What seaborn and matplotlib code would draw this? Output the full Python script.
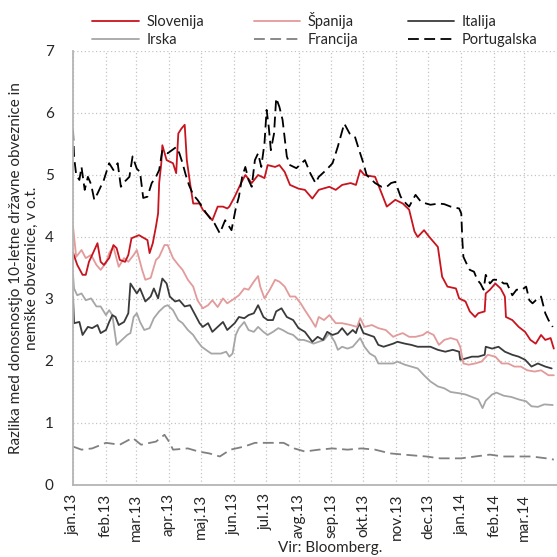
import pandas as pd
import matplotlib
matplotlib.use('Agg')
import matplotlib.pyplot as plt
import seaborn as sns

# month ticks (Slovenian labels)
tick_dates = ['2013-01-01', '2013-02-01', '2013-03-01', '2013-04-01', '2013-05-01',
              '2013-06-01', '2013-07-01', '2013-08-01', '2013-09-01', '2013-10-01',
              '2013-11-01', '2013-12-01', '2014-01-01', '2014-02-01', '2014-03-01']
tick_labels = ['jan.13', 'feb.13', 'mar.13', 'apr.13', 'maj.13', 'jun.13', 'jul.13', 'avg.13',
               'sep.13', 'okt.13', 'nov.13', 'dec.13', 'jan.14', 'feb.14', 'mar.14']

# Slovenija
slo_dates = ['2013-01-01', '2013-01-05', '2013-01-10', '2013-01-13', '2013-01-16', '2013-01-19',
             '2013-01-24', '2013-01-27', '2013-01-30', '2013-02-04', '2013-02-08', '2013-02-11',
             '2013-02-14', '2013-02-19', '2013-02-22', '2013-02-25', '2013-03-04', '2013-03-09',
             '2013-03-12', '2013-03-14', '2013-03-17', '2013-03-20', '2013-03-22', '2013-03-23',
             '2013-03-25', '2013-03-26', '2013-03-30', '2013-04-05', '2013-04-08', '2013-04-10',
             '2013-04-13', '2013-04-16', '2013-04-18', '2013-04-21', '2013-04-24', '2013-04-30',
             '2013-05-03', '2013-05-09', '2013-05-12', '2013-05-17', '2013-05-22', '2013-05-26',
             '2013-05-28', '2013-06-02', '2013-06-08', '2013-06-12', '2013-06-18', '2013-06-24',
             '2013-06-30', '2013-07-03', '2013-07-10', '2013-07-14', '2013-07-19', '2013-07-24',
             '2013-08-01', '2013-08-07', '2013-08-14', '2013-08-20', '2013-08-30', '2013-09-05',
             '2013-09-11', '2013-09-19', '2013-09-24', '2013-09-28', '2013-10-02', '2013-10-12',
             '2013-10-18', '2013-10-23', '2013-10-31', '2013-11-07', '2013-11-13', '2013-11-18',
             '2013-11-21', '2013-11-27', '2013-12-02', '2013-12-10', '2013-12-14', '2013-12-19',
             '2013-12-27', '2013-12-30', '2014-01-05', '2014-01-09', '2014-01-14', '2014-01-17',
             '2014-01-23', '2014-01-24', '2014-01-28', '2014-02-02', '2014-02-07', '2014-02-11',
             '2014-02-12', '2014-02-18', '2014-02-24', '2014-03-02', '2014-03-07', '2014-03-12',
             '2014-03-17', '2014-03-21', '2014-03-26', '2014-03-29']
slo_vals = [3.75, 3.55, 3.39, 3.39, 3.60, 3.71, 3.90, 3.60, 3.55, 3.66, 3.87, 3.82,
            3.63, 3.60, 3.71, 3.98, 4.03, 3.98, 3.95, 3.74, 3.90, 4.17, 4.38, 4.87,
            5.19, 5.48, 5.24, 5.19, 5.03, 5.67, 5.75, 5.81, 5.24, 4.87, 4.54, 4.54,
            4.44, 4.33, 4.27, 4.49, 4.49, 4.46, 4.49, 4.65, 4.87, 5.00, 4.87, 5.00,
            4.95, 5.16, 5.13, 5.16, 5.05, 4.84, 4.78, 4.76, 4.62, 4.76, 4.81, 4.76,
            4.84, 4.87, 4.84, 5.08, 5.00, 4.97, 4.71, 4.49, 4.60, 4.54, 4.44, 4.09,
            4.00, 4.11, 4.00, 3.84, 3.36, 3.20, 3.17, 3.01, 2.96, 2.80, 2.71, 2.77,
            2.80, 3.09, 3.15, 3.25, 3.17, 3.04, 2.71, 2.66, 2.55, 2.47, 2.34, 2.28,
            2.42, 2.34, 2.37, 2.20]

# Španija
esp_dates = ['2013-01-01', '2013-01-04', '2013-01-09', '2013-01-13', '2013-01-18', '2013-01-23',
             '2013-01-27', '2013-02-01', '2013-02-04', '2013-02-08', '2013-02-13', '2013-02-18',
             '2013-02-22', '2013-02-27', '2013-03-02', '2013-03-07', '2013-03-10', '2013-03-15',
             '2013-03-20', '2013-03-23', '2013-03-28', '2013-03-31', '2013-04-05', '2013-04-10',
             '2013-04-14', '2013-04-19', '2013-04-24', '2013-04-28', '2013-05-03', '2013-05-08',
             '2013-05-12', '2013-05-17', '2013-05-22', '2013-05-26', '2013-06-02', '2013-06-06',
             '2013-06-11', '2013-06-15', '2013-06-20', '2013-06-24', '2013-06-26', '2013-06-30',
             '2013-07-05', '2013-07-10', '2013-07-14', '2013-07-19', '2013-07-24', '2013-07-29',
             '2013-08-03', '2013-08-07', '2013-08-12', '2013-08-17', '2013-08-20', '2013-08-25',
             '2013-08-30', '2013-09-05', '2013-09-11', '2013-09-19', '2013-09-25', '2013-09-28',
             '2013-10-02', '2013-10-09', '2013-10-15', '2013-10-22', '2013-10-29', '2013-11-02',
             '2013-11-07', '2013-11-13', '2013-11-19', '2013-11-26', '2013-11-30', '2013-12-06',
             '2013-12-11', '2013-12-16', '2013-12-22', '2013-12-28', '2013-12-31', '2014-01-03',
             '2014-01-08', '2014-01-14', '2014-01-20', '2014-01-26', '2014-02-02', '2014-02-08',
             '2014-02-14', '2014-02-20', '2014-02-26', '2014-03-04', '2014-03-11', '2014-03-17',
             '2014-03-24', '2014-03-29']
esp_vals = [4.17, 3.68, 3.79, 3.66, 3.71, 3.55, 3.47, 3.58, 3.74, 3.84, 3.52, 3.66,
            3.60, 3.71, 3.79, 3.47, 3.31, 3.34, 3.63, 3.68, 3.87, 3.87, 3.66, 3.55,
            3.47, 3.31, 3.20, 2.98, 2.85, 2.90, 2.98, 2.87, 3.01, 2.93, 3.01, 3.06,
            3.17, 3.15, 3.28, 3.37, 3.20, 3.01, 3.15, 3.31, 3.28, 3.20, 3.04, 3.04,
            2.93, 2.82, 2.69, 2.55, 2.71, 2.66, 2.74, 2.61, 2.61, 2.58, 2.55, 2.69,
            2.55, 2.58, 2.53, 2.50, 2.39, 2.42, 2.45, 2.39, 2.39, 2.42, 2.47, 2.42,
            2.26, 2.34, 2.37, 2.34, 2.23, 1.96, 1.94, 1.96, 1.99, 2.10, 2.07, 1.96,
            1.96, 1.91, 1.91, 1.85, 1.83, 1.85, 1.77, 1.77]

# Italija
ita_dates = ['2013-01-01', '2013-01-02', '2013-01-07', '2013-01-10', '2013-01-15', '2013-01-19',
             '2013-01-24', '2013-01-27', '2013-02-01', '2013-02-04', '2013-02-07', '2013-02-10',
             '2013-02-13', '2013-02-18', '2013-02-22', '2013-02-24', '2013-02-27', '2013-03-02',
             '2013-03-05', '2013-03-10', '2013-03-15', '2013-03-18', '2013-03-22', '2013-03-26',
             '2013-03-30', '2013-04-02', '2013-04-07', '2013-04-11', '2013-04-16', '2013-04-21',
             '2013-04-26', '2013-04-30', '2013-05-03', '2013-05-08', '2013-05-12', '2013-05-17',
             '2013-05-22', '2013-05-26', '2013-06-02', '2013-06-06', '2013-06-11', '2013-06-15',
             '2013-06-20', '2013-06-24', '2013-06-29', '2013-07-03', '2013-07-08', '2013-07-11',
             '2013-07-16', '2013-07-21', '2013-07-27', '2013-08-01', '2013-08-07', '2013-08-14',
             '2013-08-19', '2013-08-24', '2013-08-28', '2013-09-02', '2013-09-07', '2013-09-11',
             '2013-09-16', '2013-09-21', '2013-09-24', '2013-09-27', '2013-10-01', '2013-10-06',
             '2013-10-11', '2013-10-15', '2013-10-20', '2013-10-29', '2013-11-02', '2013-11-09',
             '2013-11-15', '2013-11-21', '2013-11-27', '2013-12-03', '2013-12-10', '2013-12-17',
             '2013-12-24', '2013-12-30', '2013-12-31', '2014-01-05', '2014-01-11', '2014-01-17',
             '2014-01-23', '2014-01-24', '2014-01-30', '2014-02-05', '2014-02-11', '2014-02-18',
             '2014-02-24', '2014-03-02', '2014-03-08', '2014-03-14', '2014-03-21', '2014-03-27']
ita_vals = [3.04, 2.61, 2.63, 2.42, 2.55, 2.53, 2.58, 2.45, 2.50, 2.63, 2.74, 2.71,
            2.58, 2.63, 2.77, 3.25, 3.17, 3.09, 3.17, 2.96, 3.04, 3.17, 3.01, 3.33,
            3.25, 3.04, 2.96, 2.98, 2.88, 2.90, 2.74, 2.61, 2.55, 2.61, 2.47, 2.55,
            2.63, 2.50, 2.61, 2.71, 2.69, 2.74, 2.77, 2.90, 2.71, 2.66, 2.66, 2.80,
            2.85, 2.71, 2.66, 2.53, 2.47, 2.31, 2.39, 2.34, 2.47, 2.42, 2.45, 2.53,
            2.42, 2.50, 2.45, 2.61, 2.45, 2.42, 2.39, 2.26, 2.23, 2.28, 2.31, 2.28,
            2.26, 2.23, 2.23, 2.23, 2.18, 2.15, 2.18, 2.15, 2.02, 2.04, 2.07, 2.07,
            2.10, 2.23, 2.20, 2.23, 2.15, 2.10, 2.07, 2.02, 1.91, 1.96, 1.91, 1.88]

# Irska
irl_dates = ['2013-01-01', '2013-01-02', '2013-01-05', '2013-01-09', '2013-01-13', '2013-01-18',
             '2013-01-23', '2013-01-27', '2013-02-01', '2013-02-04', '2013-02-07', '2013-02-11',
             '2013-02-16', '2013-02-21', '2013-02-24', '2013-02-27', '2013-03-02', '2013-03-05',
             '2013-03-09', '2013-03-14', '2013-03-18', '2013-03-23', '2013-03-28', '2013-03-31',
             '2013-04-05', '2013-04-10', '2013-04-14', '2013-04-19', '2013-04-24', '2013-04-27',
             '2013-05-02', '2013-05-06', '2013-05-11', '2013-05-16', '2013-05-20', '2013-05-25',
             '2013-05-28', '2013-05-31', '2013-06-03', '2013-06-06', '2013-06-11', '2013-06-15',
             '2013-06-20', '2013-06-24', '2013-06-29', '2013-07-03', '2013-07-08', '2013-07-13',
             '2013-07-17', '2013-07-22', '2013-07-27', '2013-08-01', '2013-08-06', '2013-08-11',
             '2013-08-15', '2013-08-20', '2013-08-25', '2013-08-30', '2013-09-04', '2013-09-07',
             '2013-09-11', '2013-09-16', '2013-09-21', '2013-09-25', '2013-09-28', '2013-10-02',
             '2013-10-07', '2013-10-12', '2013-10-15', '2013-10-20', '2013-10-29', '2013-11-02',
             '2013-11-09', '2013-11-15', '2013-11-21', '2013-11-27', '2013-12-03', '2013-12-10',
             '2013-12-16', '2013-12-22', '2013-12-30', '2014-01-05', '2014-01-11', '2014-01-17',
             '2014-01-21', '2014-01-24', '2014-01-30', '2014-02-03', '2014-02-10', '2014-02-17',
             '2014-02-24', '2014-03-03', '2014-03-08', '2014-03-14', '2014-03-20', '2014-03-28']
irl_vals = [3.39, 3.17, 3.06, 3.09, 2.98, 3.01, 2.88, 2.88, 2.74, 2.82, 2.74, 2.26,
            2.34, 2.42, 2.45, 2.71, 2.77, 2.63, 2.50, 2.53, 2.69, 2.80, 2.88, 2.90,
            2.82, 2.66, 2.61, 2.50, 2.42, 2.34, 2.23, 2.18, 2.12, 2.12, 2.12, 2.15,
            2.07, 2.12, 2.42, 2.53, 2.63, 2.50, 2.47, 2.55, 2.47, 2.42, 2.47, 2.53,
            2.50, 2.45, 2.42, 2.34, 2.34, 2.31, 2.28, 2.31, 2.34, 2.45, 2.31, 2.18,
            2.23, 2.20, 2.23, 2.31, 2.37, 2.23, 2.12, 2.07, 1.96, 1.96, 1.96, 1.99,
            1.94, 1.91, 1.88, 1.77, 1.67, 1.59, 1.56, 1.50, 1.48, 1.46, 1.42, 1.38,
            1.24, 1.36, 1.46, 1.49, 1.44, 1.42, 1.38, 1.35, 1.27, 1.26, 1.30, 1.29]

# Francija
fra_dates = ['2013-01-01', '2013-01-09', '2013-01-19', '2013-02-01', '2013-02-14', '2013-02-26',
             '2013-03-06', '2013-03-20', '2013-03-28', '2013-04-02', '2013-04-05', '2013-04-19',
             '2013-04-29', '2013-05-09', '2013-05-19', '2013-05-29', '2013-06-11', '2013-06-21',
             '2013-07-04', '2013-07-18', '2013-07-28', '2013-08-07', '2013-08-20', '2013-09-02',
             '2013-09-16', '2013-09-29', '2013-10-12', '2013-10-26', '2013-11-08', '2013-11-29',
             '2013-12-12', '2014-01-01', '2014-01-14', '2014-01-28', '2014-02-09', '2014-02-23',
             '2014-03-08', '2014-03-22', '2014-03-29']
fra_vals = [0.62, 0.57, 0.59, 0.68, 0.65, 0.76, 0.65, 0.70, 0.81, 0.68, 0.57, 0.59,
            0.54, 0.51, 0.46, 0.57, 0.62, 0.68, 0.68, 0.68, 0.59, 0.54, 0.57, 0.59,
            0.57, 0.59, 0.57, 0.51, 0.49, 0.46, 0.43, 0.43, 0.46, 0.49, 0.46, 0.46,
            0.46, 0.43, 0.41]

# Portugalska
por_dates = ['2013-01-01', '2013-01-02', '2013-01-04', '2013-01-07', '2013-01-09', '2013-01-12',
             '2013-01-15', '2013-01-18', '2013-01-21', '2013-01-24', '2013-01-27', '2013-01-30',
             '2013-02-04', '2013-02-08', '2013-02-12', '2013-02-15', '2013-02-19', '2013-02-23',
             '2013-02-26', '2013-03-02', '2013-03-05', '2013-03-08', '2013-03-12', '2013-03-16',
             '2013-03-20', '2013-03-23', '2013-03-26', '2013-03-31', '2013-04-04', '2013-04-08',
             '2013-04-11', '2013-04-14', '2013-04-17', '2013-04-20', '2013-04-24', '2013-04-28',
             '2013-05-02', '2013-05-06', '2013-05-10', '2013-05-14', '2013-05-19', '2013-05-24',
             '2013-05-30', '2013-06-03', '2013-06-06', '2013-06-09', '2013-06-12', '2013-06-15',
             '2013-06-18', '2013-06-21', '2013-06-24', '2013-06-27', '2013-06-30', '2013-07-02',
             '2013-07-04', '2013-07-06', '2013-07-09', '2013-07-11', '2013-07-14', '2013-07-17',
             '2013-07-21', '2013-07-24', '2013-07-30', '2013-08-07', '2013-08-12', '2013-08-17',
             '2013-08-20', '2013-08-27', '2013-09-02', '2013-09-07', '2013-09-13', '2013-09-18',
             '2013-09-23', '2013-09-27', '2013-10-01', '2013-10-04', '2013-10-12', '2013-10-18',
             '2013-10-23', '2013-10-27', '2013-10-31', '2013-11-05', '2013-11-10', '2013-11-13',
             '2013-11-19', '2013-11-24', '2013-11-29', '2013-12-03', '2013-12-11', '2013-12-16',
             '2013-12-22', '2013-12-30', '2014-01-01', '2014-01-02', '2014-01-03', '2014-01-06',
             '2014-01-09', '2014-01-13', '2014-01-16', '2014-01-19', '2014-01-22', '2014-01-24',
             '2014-01-28', '2014-01-31', '2014-02-05', '2014-02-10', '2014-02-13', '2014-02-18',
             '2014-02-22', '2014-02-27', '2014-03-03', '2014-03-06', '2014-03-09', '2014-03-14',
             '2014-03-17', '2014-03-21', '2014-03-24', '2014-03-28']
por_vals = [5.73, 5.30, 5.00, 4.92, 5.13, 4.76, 4.97, 4.85, 4.60, 4.70, 4.81, 4.92,
            5.19, 5.08, 5.19, 4.81, 4.90, 4.97, 5.30, 5.10, 5.05, 4.63, 4.65, 4.87,
            4.97, 5.08, 5.40, 5.35, 5.40, 5.45, 5.35, 5.19, 5.00, 4.84, 4.68, 4.60,
            4.50, 4.39, 4.30, 4.22, 4.06, 4.27, 4.11, 4.46, 4.65, 4.97, 5.13, 4.92,
            4.81, 5.24, 5.35, 5.13, 5.51, 6.05, 5.78, 5.40, 5.67, 6.24, 6.10, 5.89,
            5.30, 5.16, 5.11, 5.24, 5.03, 4.87, 4.97, 5.08, 5.19, 5.46, 5.83, 5.67,
            5.62, 5.40, 5.19, 5.00, 4.87, 4.81, 4.81, 4.87, 4.89, 4.65, 4.54, 4.49,
            4.68, 4.57, 4.54, 4.52, 4.54, 4.53, 4.49, 4.46, 4.38, 3.95, 3.68, 3.57,
            3.47, 3.44, 3.31, 3.25, 3.15, 3.39, 3.25, 3.31, 3.31, 3.25, 3.25, 3.06,
            3.15, 3.15, 3.20, 2.98, 2.93, 3.01, 3.04, 2.77, 2.66, 2.55]

series = [
    # name, dates, values, color, linestyle
    ('Francija', fra_dates, fra_vals, '#808080', (0, (6, 3))),
    ('Irska', irl_dates, irl_vals, '#a6a6a6', '-'),
    ('Italija', ita_dates, ita_vals, '#3a3a3a', '-'),
    ('Španija', esp_dates, esp_vals, '#e39a9a', '-'),
    ('Slovenija', slo_dates, slo_vals, '#c8141e', '-'),
    ('Portugalska', por_dates, por_vals, '#000000', (0, (6, 3))),
]

sns.set_style('white')
plt.rcParams['font.family'] = ['Lato', 'DejaVu Sans']

fig = plt.figure(figsize=(5.57, 5.57), dpi=100)
ax = fig.add_axes([73 / 557, 1 - 485 / 557, 484 / 557, 434 / 557])

for name, d, v, col, ls in series:
    sns.lineplot(x=pd.to_datetime(d), y=v, ax=ax, color=col, linestyle=ls,
                 linewidth=1.3, label=name)

ax.set_xlim(pd.Timestamp('2013-01-01'), pd.Timestamp('2014-04-01'))
ax.set_ylim(0, 7)
ax.set_yticks(range(0, 8))
ax.set_xticks(pd.to_datetime(tick_dates))
ax.set_xticklabels(tick_labels, rotation=90, fontsize=11)
ax.tick_params(axis='y', labelsize=11, length=0, pad=14)
ax.tick_params(axis='x', length=0, pad=6)

ax.grid(True, color='#c4c4c4', linestyle=(0, (1, 2)), linewidth=0.9)
for s in ['top', 'right']:
    ax.spines[s].set_visible(False)
for s in ['left', 'bottom']:
    ax.spines[s].set_color('#b4b4b4')
    ax.spines[s].set_linewidth(1.3)

ax.set_xlabel('')
ax.set_ylabel('Razlika med donosnostjo 10-letne državne obveznice in\nnemške obveznice, v o.t.',
              fontsize=11, linespacing=1.15)
ax.yaxis.set_label_coords(-0.07, 0.5)

# legend: two rows, three columns
handles, labels = ax.get_legend_handles_labels()
lookup = dict(zip(labels, handles))
order = ['Slovenija', 'Irska', 'Španija', 'Francija', 'Italija', 'Portugalska']
ax.legend_.remove()
fig.legend([lookup[n] for n in order], order, ncol=3, frameon=False,
           loc='upper left', bbox_to_anchor=(0.142, 1.002), fontsize=10.5,
           handlelength=3.2, handletextpad=0.5, columnspacing=3.4,
           labelspacing=0.3)

fig.text(0.592, 0.003, 'Vir: Bloomberg.', ha='center', va='bottom', fontsize=11)

fig.savefig('out.png', dpi=100)
